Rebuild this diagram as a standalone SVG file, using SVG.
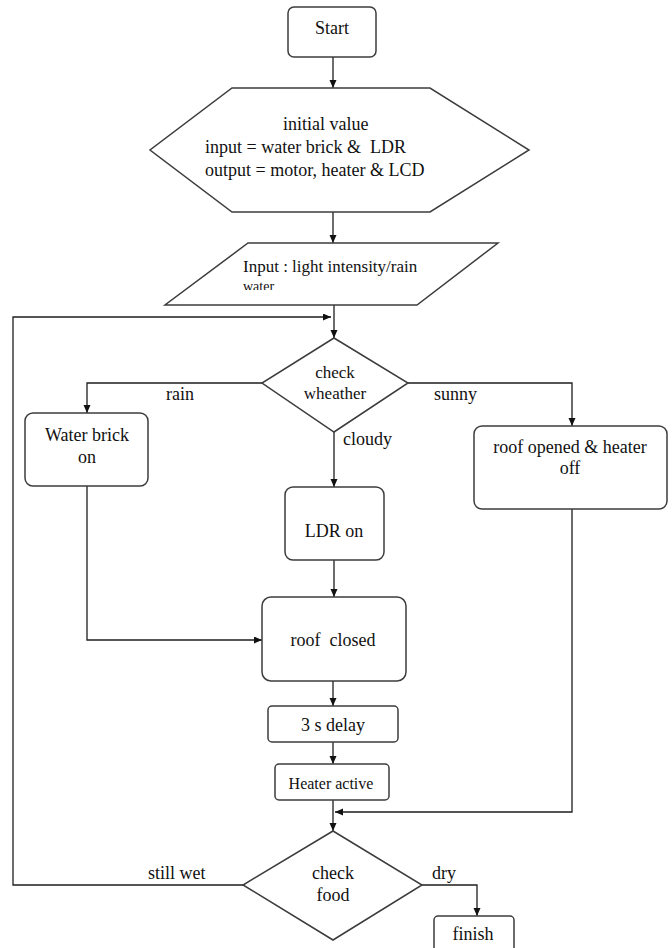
<svg xmlns="http://www.w3.org/2000/svg" width="672" height="948" viewBox="0 0 672 948">
<style>
.shape{fill:#fff;stroke:#3c3c3c;stroke-width:1.5}
.conn{fill:none;stroke:#1e1e1e;stroke-width:1.3}
text{font-family:"Liberation Serif","Times New Roman",serif;font-size:18px;fill:#111}
.c{text-anchor:middle}
</style>
<defs>
<marker id="arr" markerWidth="9" markerHeight="8" refX="8" refY="3.5" orient="auto" markerUnits="userSpaceOnUse">
<path d="M0,0 L8,3.5 L0,7 z" fill="#111"/>
</marker>
<clipPath id="pclip"><rect x="150" y="240" width="360" height="50"/></clipPath>
</defs>
<rect width="672" height="948" fill="#fff"/>
<g id="connectors">
<path class="conn" d="M333,57 V88" marker-end="url(#arr)"/>
<path class="conn" d="M333,212 V243" marker-end="url(#arr)"/>
<path class="conn" d="M334,305 V338" marker-end="url(#arr)"/>
<path class="conn" d="M243,885 H13 V317 H331" marker-end="url(#arr)"/>
<path class="conn" d="M262,383 H87 V413" marker-end="url(#arr)"/>
<path class="conn" d="M408,383 H572 V426" marker-end="url(#arr)"/>
<path class="conn" d="M334,432 V487" marker-end="url(#arr)"/>
<path class="conn" d="M334,560 V597" marker-end="url(#arr)"/>
<path class="conn" d="M87,486 V640 H262" marker-end="url(#arr)"/>
<path class="conn" d="M333,681 V706" marker-end="url(#arr)"/>
<path class="conn" d="M333,742 V764" marker-end="url(#arr)"/>
<path class="conn" d="M333,800 V831" marker-end="url(#arr)"/>
<path class="conn" d="M572,509 V812 H335" marker-end="url(#arr)"/>
<path class="conn" d="M422,885 H477 V916" marker-end="url(#arr)"/>
<text x="166" y="400">rain</text>
<text x="434" y="400">sunny</text>
<text x="343" y="445">cloudy</text>
<text x="148" y="879">still wet</text>
<text x="432" y="879">dry</text>
</g>
<g id="start">
<rect class="shape" x="288" y="7" width="88" height="50" rx="6"/>
<text class="c" x="332" y="34">Start</text>
</g>
<g id="init">
<polygon class="shape" points="232,88 430,88 529,150 430,212 232,212 150,150"/>
<text x="283" y="130">initial value</text>
<text x="205" y="153" xml:space="preserve">input = water brick &amp;  LDR</text>
<text x="205" y="176">output = motor, heater &amp; LCD</text>
</g>
<g id="input">
<polygon class="shape" points="248,243 498,243 417,305 165,305"/>
<text x="243" y="272" style="font-size:17px">Input : light intensity/rain</text>
<text x="243" y="291" style="font-size:14px" clip-path="url(#pclip)">water</text>
</g>
<g id="check-weather">
<polygon class="shape" points="334,338 408,383 334,432 262,383"/>
<text class="c" x="335" y="378" style="font-size:17px">check</text>
<text class="c" x="335" y="399" style="font-size:17px">wheather</text>
</g>
<g id="water-brick">
<rect class="shape" x="25" y="413" width="123" height="73" rx="8"/>
<text class="c" x="87" y="441">Water brick</text>
<text class="c" x="87" y="463">on</text>
</g>
<g id="roof-opened">
<rect class="shape" x="474" y="426" width="193" height="83" rx="8"/>
<text class="c" x="570" y="453">roof opened &amp; heater</text>
<text class="c" x="570" y="474">off</text>
</g>
<g id="ldr-on">
<rect class="shape" x="285" y="487" width="99" height="73" rx="8"/>
<text class="c" x="334" y="537">LDR on</text>
</g>
<g id="roof-closed">
<rect class="shape" x="262" y="597" width="144" height="84" rx="9"/>
<text class="c" x="333" y="646" xml:space="preserve">roof  closed</text>
</g>
<g id="delay">
<rect class="shape" x="268" y="706" width="130" height="36" rx="4"/>
<text class="c" x="333" y="731">3 s delay</text>
</g>
<g id="heater">
<rect class="shape" x="275" y="764" width="114" height="36" rx="4"/>
<text class="c" x="331" y="789" style="font-size:16px">Heater active</text>
</g>
<g id="check-food">
<polygon class="shape" points="333,831 422,885 333,940 243,885"/>
<text class="c" x="333" y="879">check</text>
<text class="c" x="333" y="901">food</text>
</g>
<g id="finish">
<rect class="shape" x="434" y="916" width="80" height="42" rx="4"/>
<text class="c" x="473" y="940">finish</text>
</g>
</svg>
